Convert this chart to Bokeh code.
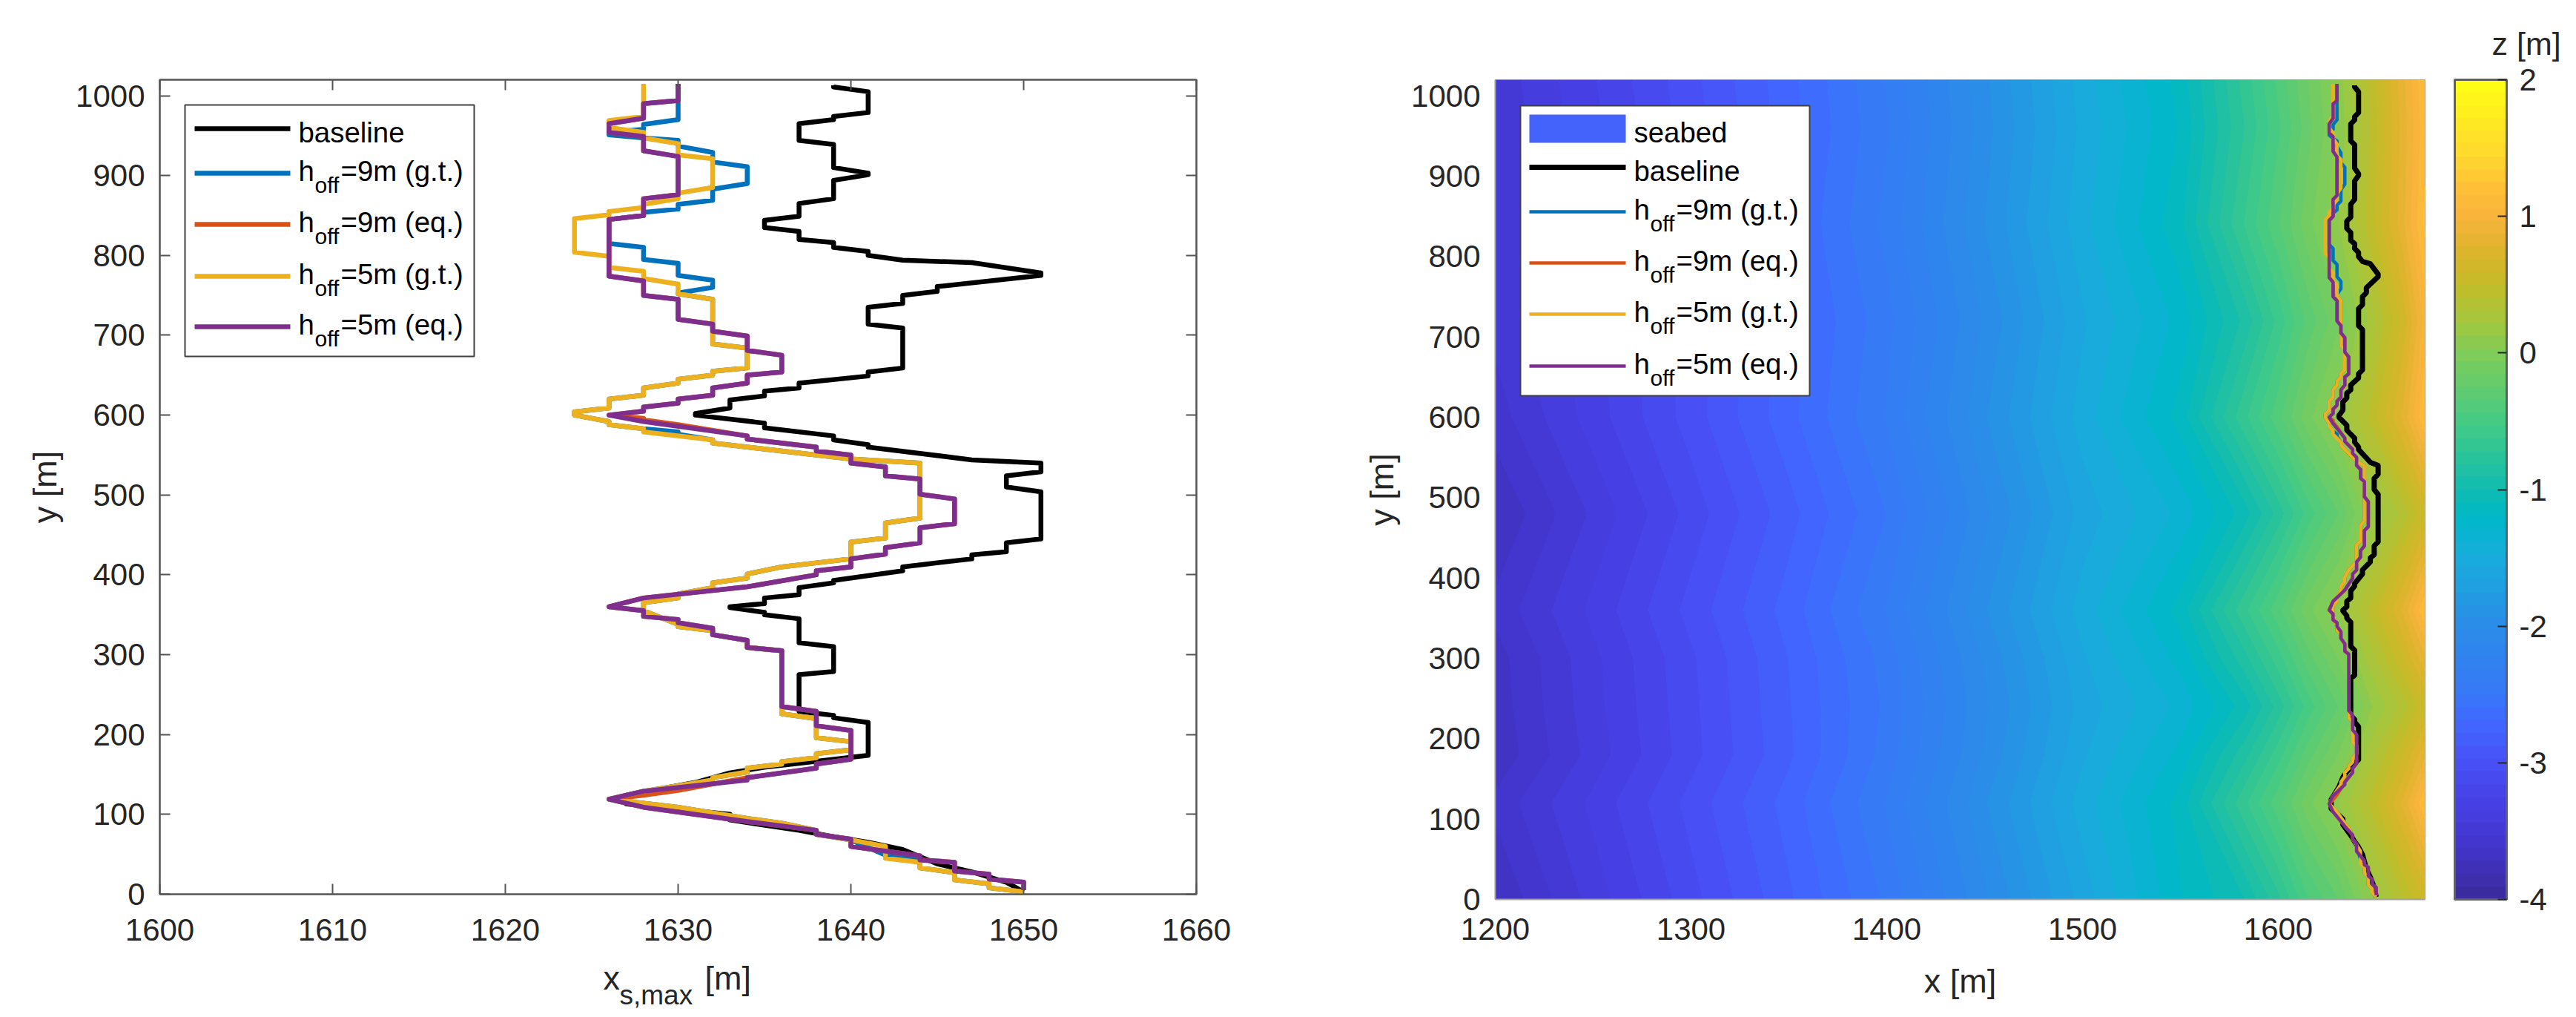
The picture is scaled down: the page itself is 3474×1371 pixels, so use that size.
""" Shoreline position plots: x_s,max along the beach and the seabed map. """
import numpy as np

from bokeh.embed import file_html
from bokeh.layouts import column, row
from bokeh.models import BoxAnnotation, ColorBar, FixedTicker, Label, LinearAxis, LinearColorMapper, Range1d, Title
from bokeh.plotting import figure
from bokeh.resources import INLINE

baseline_x = [1639, 1639, 1641, 1641, 1639, 1639, 1637, 1637, 1639, 1639, 1641, 1641, 1639, 1639, 1637, 1637, 1635, 1635,
              1637, 1637, 1639, 1639, 1641, 1641, 1643, 1647, 1651, 1651, 1645, 1645, 1643, 1643, 1641, 1641, 1643, 1643,
              1641, 1641, 1637, 1637, 1635, 1635, 1633, 1633, 1631, 1631, 1635, 1635, 1639, 1639, 1641, 1641, 1647, 1651,
              1651, 1649, 1649, 1651, 1651, 1649, 1649, 1647, 1647, 1643, 1643, 1639, 1639, 1637, 1637, 1635, 1635, 1633,
              1633, 1635, 1635, 1637, 1637, 1639, 1639, 1637, 1637, 1639, 1639, 1641, 1641, 1637, 1635, 1633, 1631, 1627,
              1627, 1633, 1633, 1637, 1639, 1641, 1643, 1645, 1647, 1649, 1650]
baseline_y = [1013, 1011, 1005, 979, 974, 970, 965, 944, 939, 910, 903, 901, 894, 871, 865, 849, 844, 835,
              830, 820, 816, 810, 805, 800, 794, 791, 778, 775, 761, 755, 750, 740, 735, 714, 709, 659,
              654, 649, 640, 634, 630, 624, 619, 609, 602, 600, 590, 584, 574, 569, 563, 560, 544, 540,
              529, 524, 510, 504, 445, 440, 429, 425, 420, 410, 405, 393, 390, 384, 375, 371, 364, 360,
              359, 353, 350, 345, 315, 310, 279, 275, 229, 224, 221, 215, 174, 164, 159, 152, 140, 124,
              113, 100, 93, 80, 72, 65, 56, 38, 28, 15, 3]

h9_gt_x = [1630, 1630, 1628, 1628, 1626, 1626, 1628, 1630, 1630, 1632, 1632, 1634, 1634, 1632, 1632, 1630, 1630, 1628,
           1628, 1626, 1626, 1628, 1628, 1630, 1630, 1632, 1632, 1630, 1630, 1632, 1632, 1634, 1634, 1632, 1632, 1630,
           1630, 1628, 1628, 1626, 1626, 1624, 1624, 1626, 1626, 1628, 1630, 1630, 1632, 1632, 1640, 1644, 1644, 1642,
           1642, 1640, 1640, 1636, 1634, 1634, 1632, 1632, 1630, 1630, 1628, 1628, 1630, 1630, 1632, 1632, 1634, 1634,
           1636, 1636, 1638, 1638, 1640, 1640, 1638, 1638, 1636, 1636, 1634, 1634, 1632, 1632, 1630, 1628, 1626, 1628,
           1630, 1634, 1636, 1638, 1638, 1640, 1642, 1644, 1644, 1646, 1646, 1648, 1648, 1650]
h9_gt_y = [1015, 970, 964, 958, 954, 951, 947, 944, 937, 929, 917, 911, 890, 883, 869, 864, 858, 854,
           850, 845, 815, 810, 795, 790, 775, 769, 760, 753, 752, 745, 689, 684, 659, 655, 650, 645,
           640, 634, 625, 620, 609, 604, 600, 592, 588, 583, 579, 576, 569, 565, 545, 540, 471, 465,
           446, 441, 420, 410, 401, 396, 390, 384, 376, 371, 365, 355, 338, 335, 330, 325, 318, 309,
           305, 226, 220, 196, 191, 181, 176, 171, 166, 163, 158, 153, 146, 143, 136, 129, 119, 114,
           109, 95, 89, 80, 75, 68, 49, 44, 33, 27, 18, 13, 8, 3]

h9_eq_x = [1630, 1630, 1628, 1628, 1626, 1626, 1628, 1628, 1630, 1630, 1628, 1628, 1626, 1626, 1628, 1628, 1630, 1630,
           1632, 1632, 1634, 1634, 1636, 1636, 1634, 1634, 1632, 1632, 1630, 1630, 1628, 1628, 1626, 1628, 1628, 1630,
           1634, 1634, 1638, 1638, 1640, 1640, 1642, 1642, 1644, 1644, 1646, 1646, 1644, 1644, 1642, 1642, 1640, 1640,
           1638, 1638, 1634, 1628, 1626, 1628, 1628, 1630, 1630, 1632, 1632, 1634, 1634, 1636, 1636, 1638, 1638, 1640,
           1640, 1638, 1638, 1634, 1630, 1628, 1626, 1628, 1634, 1638, 1638, 1640, 1640, 1644, 1644, 1646, 1646, 1648,
           1648, 1650, 1650]
h9_eq_y = [1015, 994, 990, 972, 965, 954, 949, 931, 924, 876, 871, 850, 845, 774, 768, 750, 745, 720,
           714, 705, 699, 681, 675, 654, 650, 640, 634, 625, 620, 615, 610, 605, 600, 596, 594, 588,
           574, 570, 560, 555, 550, 540, 535, 524, 520, 501, 495, 464, 459, 440, 434, 426, 420, 410,
           405, 400, 385, 371, 360, 355, 348, 344, 340, 333, 325, 318, 309, 305, 235, 229, 211, 205,
           169, 163, 158, 146, 130, 124, 119, 109, 91, 80, 75, 69, 60, 48, 43, 40, 29, 25,
           19, 15, 5]

h5_gt_x = [1628, 1628, 1626, 1626, 1628, 1628, 1630, 1630, 1632, 1632, 1630, 1630, 1628, 1628, 1626, 1626, 1624, 1624,
           1626, 1626, 1628, 1628, 1630, 1630, 1632, 1632, 1634, 1634, 1632, 1632, 1630, 1630, 1628, 1628, 1626, 1626,
           1624, 1624, 1626, 1626, 1628, 1628, 1632, 1632, 1640, 1644, 1644, 1642, 1642, 1640, 1640, 1636, 1634, 1634,
           1632, 1632, 1630, 1630, 1628, 1628, 1630, 1630, 1632, 1632, 1634, 1634, 1636, 1636, 1638, 1638, 1640, 1640,
           1638, 1638, 1636, 1636, 1634, 1634, 1632, 1632, 1630, 1628, 1626, 1628, 1630, 1634, 1636, 1638, 1638, 1640,
           1642, 1642, 1644, 1644, 1646, 1646, 1648, 1648, 1650]
h5_gt_y = [1015, 974, 969, 960, 954, 947, 940, 926, 921, 885, 878, 871, 864, 860, 855, 851, 846, 804,
           799, 785, 780, 771, 764, 752, 745, 689, 684, 659, 655, 650, 645, 640, 634, 625, 620, 609,
           604, 600, 592, 588, 583, 579, 569, 565, 545, 540, 471, 465, 446, 441, 420, 410, 401, 396,
           390, 384, 376, 371, 365, 355, 338, 335, 330, 325, 318, 309, 305, 226, 220, 196, 191, 181,
           176, 171, 166, 163, 158, 153, 146, 143, 136, 129, 119, 114, 109, 95, 89, 80, 75, 68,
           60, 45, 40, 33, 27, 18, 13, 8, 3]

h5_eq_x = [1630, 1630, 1628, 1628, 1626, 1626, 1628, 1628, 1630, 1630, 1628, 1628, 1626, 1626, 1628, 1628, 1630, 1630,
           1632, 1632, 1634, 1634, 1636, 1636, 1634, 1634, 1632, 1632, 1630, 1630, 1628, 1628, 1626, 1628, 1634, 1634,
           1638, 1638, 1640, 1640, 1642, 1642, 1644, 1644, 1646, 1646, 1644, 1644, 1642, 1642, 1640, 1640, 1638, 1638,
           1634, 1628, 1626, 1628, 1628, 1630, 1630, 1632, 1632, 1634, 1634, 1636, 1636, 1638, 1638, 1640, 1640, 1638,
           1638, 1634, 1634, 1628, 1626, 1628, 1634, 1638, 1638, 1640, 1640, 1644, 1644, 1646, 1646, 1648, 1648, 1650, 1650]
h5_eq_y = [1015, 994, 990, 972, 965, 954, 949, 931, 924, 876, 871, 850, 845, 774, 768, 750, 745, 720,
           714, 705, 699, 681, 675, 654, 650, 640, 634, 625, 620, 615, 610, 605, 600, 592, 574, 570,
           560, 555, 550, 540, 535, 524, 520, 501, 495, 464, 459, 440, 434, 426, 420, 410, 405, 400,
           385, 371, 360, 355, 348, 344, 340, 333, 325, 318, 309, 305, 235, 229, 211, 205, 169, 163,
           158, 146, 143, 129, 119, 109, 91, 80, 75, 69, 60, 48, 43, 40, 29, 25, 19, 15, 5]

# seabed elevation z [m], one list per alongshore row, columns at seabed_x
seabed_x = [1200, 1250, 1300, 1350, 1400, 1450, 1500, 1550, 1583, 1600, 1615, 1631, 1647, 1664, 1675]
seabed_y = [0, 120, 180, 240, 300, 360, 480, 600, 720, 840, 960, 1020]
z_y0 = [-3.72, -3.40, -3.10, -2.80, -2.48, -2.05, -1.62, -1.20, -1.00, -0.75, -0.45, -0.25, 0.10, 0.40, 0.60]
z_y120 = [-3.60, -3.32, -3.03, -2.74, -2.40, -1.95, -1.52, -1.15, -0.65, -0.38, -0.10, 0.12, 0.42, 0.80, 1.15]
z_y180 = [-3.70, -3.40, -3.10, -2.80, -2.46, -2.02, -1.58, -1.25, -0.85, -0.58, -0.30, -0.06, 0.26, 0.58, 0.85]
z_y240 = [-3.68, -3.38, -3.09, -2.79, -2.48, -2.05, -1.62, -1.35, -1.05, -0.78, -0.50, -0.25, 0.10, 0.35, 0.58]
z_y300 = [-3.67, -3.37, -3.08, -2.78, -2.46, -2.02, -1.58, -1.25, -0.85, -0.58, -0.30, -0.06, 0.26, 0.58, 0.85]
z_y360 = [-3.60, -3.32, -3.03, -2.74, -2.40, -1.95, -1.52, -1.15, -0.65, -0.38, -0.10, 0.12, 0.42, 0.80, 1.15]
z_y480 = [-3.72, -3.42, -3.12, -2.82, -2.50, -2.06, -1.62, -1.35, -1.05, -0.78, -0.50, -0.25, 0.10, 0.35, 0.58]
z_y600 = [-3.58, -3.30, -3.02, -2.72, -2.40, -1.95, -1.52, -1.15, -0.65, -0.38, -0.10, 0.12, 0.42, 0.80, 1.15]
z_y720 = [-3.50, -3.28, -3.02, -2.74, -2.44, -2.02, -1.58, -1.25, -0.88, -0.60, -0.32, -0.08, 0.24, 0.62, 1.00]
z_y840 = [-3.50, -3.26, -3.00, -2.70, -2.38, -1.94, -1.50, -1.12, -0.62, -0.36, -0.10, 0.12, 0.45, 0.85, 1.18]
z_y960 = [-3.52, -3.28, -3.02, -2.73, -2.42, -1.98, -1.54, -1.18, -0.72, -0.46, -0.20, 0.05, 0.40, 0.82, 1.12]
z_y1020 = [-3.50, -3.26, -3.00, -2.72, -2.40, -1.96, -1.52, -1.15, -0.68, -0.42, -0.16, 0.08, 0.42, 0.85, 1.15]

x_ticks_left = [1600, 1610, 1620, 1630, 1640, 1650, 1660]
x_ticks_right = [1200, 1300, 1400, 1500, 1600]
y_ticks = [0, 100, 200, 300, 400, 500, 600, 700, 800, 900, 1000]
z_ticks = [-4, -3, -2, -1, 0, 1, 2]

FONT = "Liberation Sans"
TEXT = "#262626"
BLACK, BLUE, ORANGE, YELLOW, PURPLE = "#000000", "#0072BD", "#D95319", "#EDB120", "#7E2F8E"

# colour map anchors taken from the colour bar
anchor_z = [-4, -3.6, -3.3, -3, -2.7, -2.5, -2, -1.5, -1.2, -1, -0.5, 0, 0.2, 0.5, 0.7, 1, 1.2, 1.5, 2]
anchor_rgb = ["#3A2A9A", "#4235CC", "#4640E4", "#4850F6", "#4068FF", "#3878F8", "#2B8CE8", "#18ACDC", "#00B8C8", "#10BCB0",
              "#45CB84", "#80CC58", "#A0C840", "#C4BC2A", "#D9B52B", "#F8B33C", "#FFC038", "#FEDC2C", "#FFFF14"]


def make_palette(n):
    rgb = np.array([[int(c[i:i + 2], 16) for i in (1, 3, 5)] for c in anchor_rgb], dtype=float)
    zs = np.linspace(-4, 2, n + 1)
    zs = (zs[:-1] + zs[1:]) / 2
    out = []
    for z in zs:
        out.append("#%02x%02x%02x" % tuple(int(round(np.interp(z, anchor_z, rgb[:, k]))) for k in range(3)))
    return out


palette = make_palette(64)
levels = list(np.linspace(-4, 2, 65))

# page geometry, in pixels of the photographed page
L_LEFT, L_RIGHT, L_TOP, L_BOTTOM = 215, 1613, 107, 1205
R_LEFT, R_RIGHT, R_TOP, R_BOTTOM = 2016, 3270, 107, 1212
L_WIDTH = 1673
L_HEIGHT = 1280
CAPTION_HEIGHT = 85
R_WIDTH = 1617
R_HEIGHT = 1365
BAR_WIDTH = 180
BAR_START = L_WIDTH + R_WIDTH
BASE_UP = 10  # label baselines sit this much lower than asked for


def style_axes(p, x_ticks, tick_len):
    p.xaxis.ticker = FixedTicker(ticks=x_ticks)
    p.yaxis.ticker = FixedTicker(ticks=y_ticks)
    for ax in (p.xaxis[0], p.yaxis[0]):
        ax.major_label_text_font = FONT
        ax.major_label_text_font_size = "42px"
        ax.major_label_text_color = TEXT
        ax.axis_line_color = "#555555"
        ax.axis_line_width = 2
        ax.major_tick_line_color = "#555555"
        ax.major_tick_line_width = 2
        ax.major_tick_in = tick_len
        ax.major_tick_out = 0
        ax.minor_tick_line_color = None
    p.yaxis.major_label_standoff = 20
    p.yaxis.axis_label = "y [m]"
    p.yaxis.axis_label_text_font = FONT
    p.yaxis.axis_label_text_font_size = "45px"
    p.yaxis.axis_label_text_font_style = "normal"
    p.yaxis.axis_label_text_color = TEXT
    p.grid.visible = False


def plot_series(p, width_base, width_other):
    p.line(baseline_x, baseline_y, line_color=BLACK, line_width=width_base, line_join="round")
    p.line(h9_gt_x, h9_gt_y, line_color=BLUE, line_width=width_other, line_join="round")
    p.line(h9_eq_x, h9_eq_y, line_color=ORANGE, line_width=width_other, line_join="round")
    p.line(h5_gt_x, h5_gt_y, line_color=YELLOW, line_width=width_other, line_join="round")
    p.line(h5_eq_x, h5_eq_y, line_color=PURPLE, line_width=width_other, line_join="round")


def add_legend(p, to_x, to_y, box, rows, line_x, text_x, width_base, width_other):
    p.add_layout(BoxAnnotation(left=to_x(box[0]), right=to_x(box[1]), top=to_y(box[2]), bottom=to_y(box[3]),
                               fill_color="white", fill_alpha=1, line_color="#404040", line_alpha=1, line_width=2,
                               level="annotation"))

    def text(x, y, s, size):
        p.add_layout(Label(x=to_x(x), y=to_y(y - BASE_UP), text=s, text_font=FONT, text_font_size=size,
                           text_color="black", text_baseline="alphabetic", text_align="left"))

    for name, colour, y in rows:
        width = width_base if colour == BLACK else width_other
        p.line([to_x(line_x[0]), to_x(line_x[1])], [to_y(y), to_y(y)], line_color=colour, line_width=width,
               level="overlay")
        if name == "baseline":
            text(text_x, y + 15, name, "38.4px")
        else:
            text(text_x, y + 7, "h", "38.4px")
            text(text_x + 22, y + 26, "off", "30px")
            text(text_x + 57, y + 7, name, "38.4px")


# left panel: shoreline position
left = figure(width=L_WIDTH, height=L_HEIGHT, output_backend="svg", toolbar_location=None,
              x_range=Range1d(1600, 1660), y_range=Range1d(0, 1020),
              min_border_left=L_LEFT, min_border_right=L_WIDTH - L_RIGHT,
              min_border_top=L_TOP, min_border_bottom=L_HEIGHT - L_BOTTOM)
style_axes(left, x_ticks_left, 14)
left.xaxis.major_label_standoff = 33
left.yaxis.axis_label_standoff = 13
left.outline_line_color = "#555555"
left.outline_line_width = 2

for side, ticks in (("above", x_ticks_left), ("right", y_ticks)):
    left.add_layout(LinearAxis(ticker=FixedTicker(ticks=ticks), major_label_overrides={t: "" for t in ticks},
                               axis_line_color="#555555", axis_line_width=2, major_tick_line_color="#555555",
                               major_tick_line_width=2, major_tick_in=14, major_tick_out=0,
                               minor_tick_line_color=None), side)

plot_series(left, 6.5, 6.5)


def left_x(X):
    return 1600 + (X - L_LEFT) * 60 / (L_RIGHT - L_LEFT)


def left_y(Y):
    return (L_BOTTOM - Y) * 1020 / (L_BOTTOM - L_TOP)


add_legend(left, left_x, left_y, (249, 639, 141, 480),
           [("baseline", BLACK, 173), ("=9m (g.t.)", BLUE, 233), ("=9m (eq.)", ORANGE, 302),
            ("=5m (g.t.)", YELLOW, 372), ("=5m (eq.)", PURPLE, 440)],
           (262, 391), 402, 6.5, 6.5)

# the subscripted x label lives in its own strip; the column lines its frame up with the left panel's
caption = figure(width=L_WIDTH, height=CAPTION_HEIGHT, output_backend="svg", toolbar_location=None,
                 x_range=Range1d(L_LEFT, L_RIGHT), y_range=Range1d(L_HEIGHT + CAPTION_HEIGHT, L_HEIGHT),
                 x_axis_location=None, y_axis_location=None, min_border=0, outline_line_color=None)
caption.grid.visible = False
for X, Y, s, size in ((813, 1328, "x", "45px"), (835, 1351, "s,max", "37px"), (950, 1328, "[m]", "45px")):
    caption.add_layout(Label(x=X, y=Y - BASE_UP, text=s, text_font=FONT, text_font_size=size, text_color=TEXT,
                             text_baseline="alphabetic", text_align="left"))

# right panel: seabed map with the same shorelines on top
right = figure(width=R_WIDTH, height=R_HEIGHT, output_backend="svg", toolbar_location=None,
               x_range=Range1d(1200, 1675), y_range=Range1d(0, 1020),
               min_border_left=R_LEFT - L_WIDTH, min_border_right=L_WIDTH + R_WIDTH - R_RIGHT,
               min_border_top=R_TOP, min_border_bottom=R_HEIGHT - R_BOTTOM)
style_axes(right, x_ticks_right, 0)
right.xaxis.major_label_standoff = 25
right.yaxis.axis_label_standoff = 11
right.xaxis.axis_label = "x [m]"
right.xaxis.axis_label_text_font = FONT
right.xaxis.axis_label_text_font_size = "45px"
right.xaxis.axis_label_text_font_style = "normal"
right.xaxis.axis_label_text_color = TEXT
right.xaxis.axis_label_standoff = 27
right.xaxis.axis_line_color = "#a0a0a0"
right.yaxis.axis_line_color = "#a0a0a0"
right.outline_line_color = "#a0a0a0"

z_rows = np.array([z_y0, z_y120, z_y180, z_y240, z_y300, z_y360, z_y480, z_y600, z_y720, z_y840, z_y960, z_y1020])
right.contour(seabed_x, seabed_y, z_rows, levels, fill_color=palette, line_color=palette + [palette[-1]], line_width=1.5)

plot_series(right, 7, 4.5)


def right_x(X):
    return 1200 + (X - R_LEFT) * 475 / (R_RIGHT - R_LEFT)


def right_y(Y):
    return (R_BOTTOM - Y) * 1020 / (R_BOTTOM - R_TOP)


add_legend(right, right_x, right_y, (2050, 2440, 142, 533),
           [("baseline", BLACK, 225), ("=9m (g.t.)", BLUE, 285), ("=9m (eq.)", ORANGE, 354),
            ("=5m (g.t.)", YELLOW, 423), ("=5m (eq.)", PURPLE, 493)],
           (2062, 2192), 2203, 7, 4.5)
right.add_layout(BoxAnnotation(left=right_x(2062), right=right_x(2192), top=right_y(154), bottom=right_y(192),
                               fill_color="#4363FB", fill_alpha=1, line_color=None, level="overlay"))
right.add_layout(Label(x=right_x(2203), y=right_y(188 - BASE_UP), text="seabed", text_font=FONT,
                       text_font_size="38.4px", text_color="black", text_baseline="alphabetic"))

# colour bar strip: the row lines its frame up with the map's frame
strip = figure(width=BAR_WIDTH, height=R_HEIGHT, output_backend="svg", toolbar_location=None,
               x_range=Range1d(0, 1), y_range=Range1d(0, 1),
               x_axis_location=None, y_axis_location=None, min_border=0, outline_line_color=None)
strip.grid.visible = False
strip.add_layout(Title(text="z [m]", align="left", offset=70, standoff=49, text_font=FONT, text_font_size="43px",
                       text_font_style="normal", text_color=TEXT), "above")
mapper = LinearColorMapper(palette=palette, low=-4, high=2)
bar = ColorBar(color_mapper=mapper, ticker=FixedTicker(ticks=z_ticks), width=70, height=R_BOTTOM - R_TOP,
               location=(3310 - BAR_START, 0), margin=0, padding=0, label_standoff=17,
               major_label_overrides={t: str(t) for t in z_ticks}, major_label_text_font=FONT,
               major_label_text_font_size="42px", major_label_text_color=TEXT,
               major_tick_line_color="#262626", major_tick_line_width=2, major_tick_in=12,
               minor_tick_line_color=None, bar_line_color="#606060", bar_line_width=3, border_line_color=None,
               background_fill_color=None)
strip.add_layout(bar)

page = row(column(left, caption, spacing=0), right, strip, spacing=0)
open("out.html", "w").write(file_html(page, INLINE))
